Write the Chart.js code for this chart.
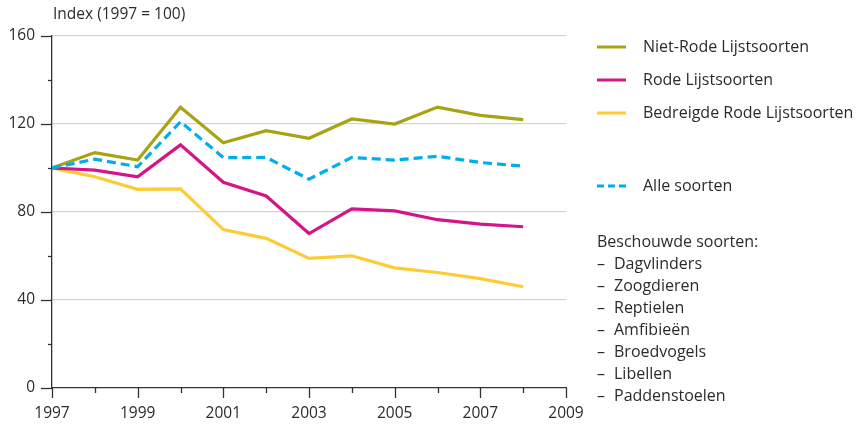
<!DOCTYPE html>
<html>
<head>
<meta charset="utf-8">
<script src="https://cdn.jsdelivr.net/npm/chart.js@4.4.1/dist/chart.umd.min.js"></script>
<style>
  html, body { margin: 0; padding: 0; background: #fff; }
  #wrap { width: 863px; height: 425px; position: relative; }
</style>
</head>
<body>
<div id="wrap"><canvas id="c" width="863" height="425"></canvas></div>
<script>
const years = [1997, 1998, 1999, 2000, 2001, 2002, 2003, 2004, 2005, 2006, 2007, 2008];
const nietRode = [100, 107, 103.6, 127.6, 111.5, 117, 113.5, 122.3, 120, 127.7, 123.9, 122];
const rode = [100, 99, 96, 110.5, 93.5, 87.3, 70.2, 81.4, 80.5, 76.5, 74.5, 73.3];
const bedreigd = [100, 96, 90.3, 90.5, 72, 68, 58.9, 60.1, 54.6, 52.5, 49.7, 46];
const alle = [100, 104, 100.6, 121, 104.7, 104.8, 94.9, 104.8, 103.6, 105.3, 102.5, 100.8];
const seriesNames = ['Niet-Rode Lijstsoorten', 'Rode Lijstsoorten', 'Bedreigde Rode Lijstsoorten', 'Alle soorten'];
const soorten = ['Dagvlinders', 'Zoogdieren', 'Reptielen', 'Amfibieën', 'Broedvogels', 'Libellen', 'Paddenstoelen'];
const yTitle = 'Index (1997 = 100)';

const FONT = '"Open Sans", "DejaVu Sans", sans-serif';
const TXT = '#2b2b2b';
const AX = '#333333';
const colors = ['#A8A314', '#D4158A', '#FFCB35', '#00ADEE'];

const pts = arr => arr.map((v, i) => ({ x: years[i], y: v }));

const extras = {
  id: 'extras',
  afterDraw(chart) {
    const ctx = chart.ctx;
    const xs = chart.scales.x, ys = chart.scales.y;
    const ca = chart.chartArea;
    ctx.save();
    ctx.strokeStyle = AX;
    ctx.lineWidth = 1.3;
    // x ticks
    xs.ticks.forEach(t => {
      const px = Math.round(xs.getPixelForValue(t.value)) + 0.5;
      const len = (t.value % 2 === 1) ? 10 : 5;
      ctx.beginPath();
      ctx.moveTo(px, ca.bottom);
      ctx.lineTo(px, ca.bottom + len);
      ctx.stroke();
    });
    // y ticks
    ys.ticks.forEach(t => {
      const py = Math.round(ys.getPixelForValue(t.value)) + 0.5;
      const len = (t.value % 40 === 0) ? 11 : 4;
      ctx.beginPath();
      ctx.moveTo(ca.left - len, py);
      ctx.lineTo(ca.left, py);
      ctx.stroke();
    });
    // axis title
    ctx.fillStyle = TXT;
    ctx.font = '15.5px ' + FONT;
    ctx.textBaseline = 'middle';
    ctx.textAlign = 'left';
    ctx.fillText(yTitle, 53, 15);

    // legend
    const legY = [47, 80, 113, 186];
    ctx.font = '16px ' + FONT;
    seriesNames.forEach((n, i) => {
      ctx.strokeStyle = colors[i];
      ctx.lineWidth = 3;
      ctx.setLineDash(i === 3 ? [7, 4] : []);
      ctx.beginPath();
      ctx.moveTo(597, legY[i]);
      ctx.lineTo(626, legY[i]);
      ctx.stroke();
      ctx.setLineDash([]);
      ctx.fillStyle = TXT;
      ctx.fillText(n, 643, legY[i]);
    });
    // species list
    ctx.fillStyle = TXT;
    ctx.fillText('Beschouwde soorten:', 597, 242);
    soorten.forEach((s, i) => {
      const y = 264 + i * 22;
      ctx.fillText('–', 597, y);
      ctx.fillText(s, 614, y);
    });
    ctx.restore();
  }
};

new Chart(document.getElementById('c'), {
  type: 'line',
  data: {
    datasets: [
      { label: seriesNames[3], data: pts(alle), borderColor: colors[3], borderWidth: 3.2, borderDash: [9, 5], pointRadius: 0, tension: 0 },
      { label: seriesNames[0], data: pts(nietRode), borderColor: colors[0], borderWidth: 3.2, pointRadius: 0, tension: 0 },
      { label: seriesNames[1], data: pts(rode), borderColor: colors[1], borderWidth: 3.2, pointRadius: 0, tension: 0 },
      { label: seriesNames[2], data: pts(bedreigd), borderColor: colors[2], borderWidth: 3.2, pointRadius: 0, tension: 0 }
    ]
  },
  options: {
    responsive: false,
    animation: false,
    layout: { padding: { top: 36, right: 297, left: 0, bottom: 0 } },
    plugins: { legend: { display: false }, tooltip: { enabled: false } },
    scales: {
      x: {
        type: 'linear', min: 1997, max: 2009,
        afterFit: s => { s.height = 37; },
        ticks: {
          stepSize: 1, autoSkip: false, maxRotation: 0, padding: 16,
          color: TXT, font: { family: FONT, size: 15.5 },
          callback: v => (v % 2 === 1 ? String(v) : '')
        },
        grid: { display: true, drawOnChartArea: false, drawTicks: false },
        border: { display: true, color: AX, width: 1.3 }
      },
      y: {
        min: 0, max: 160,
        afterFit: s => { s.width = 52; },
        ticks: {
          stepSize: 20, autoSkip: false, padding: 17,
          color: TXT, font: { family: FONT, size: 15.5 },
          callback: v => (v % 40 === 0 ? String(v) : '')
        },
        grid: {
          drawTicks: false,
          color: c => (c.tick && c.tick.value % 40 === 0 && c.tick.value > 0) ? '#D4D4D4' : 'rgba(0,0,0,0)',
          lineWidth: 1.2
        },
        border: { display: true, color: AX, width: 1.3 }
      }
    }
  },
  plugins: [extras]
});
</script>
</body>
</html>
